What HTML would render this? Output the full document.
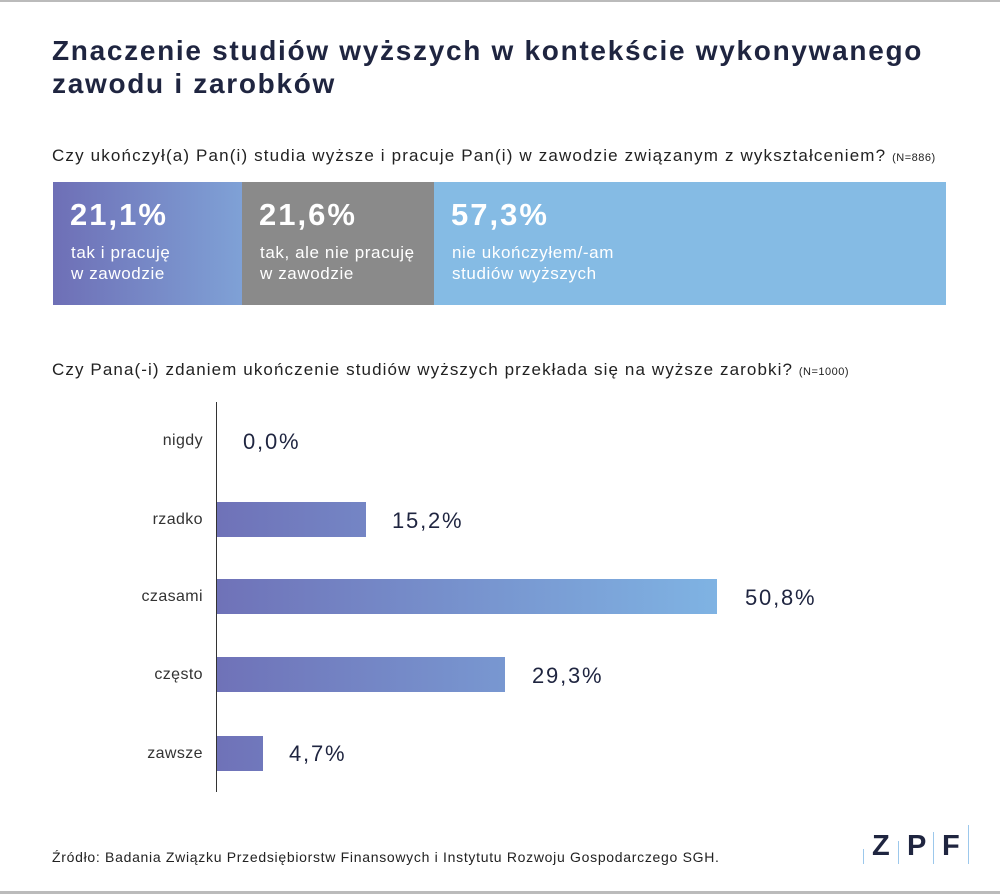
<!DOCTYPE html>
<html><head><meta charset="utf-8"><style>
body{margin:0;width:1000px;height:894px;background:#fff;font-family:"Liberation Sans",sans-serif;color:#1f2540;position:relative;overflow:hidden}
.a{position:absolute;white-space:nowrap}
.seg{position:absolute;top:182px;height:123px;color:#fff}
.seg .p{position:absolute;left:17px;top:15px;font-size:31px;font-weight:bold;letter-spacing:2px}
.seg .t{position:absolute;left:18px;top:60px;font-size:17px;line-height:21px;letter-spacing:0.6px}
.bar{position:absolute;left:217px;height:35px;background:linear-gradient(90deg,#6f72b8,#7fb3e3);background-size:500px 35px}
.cat{position:absolute;right:797px;font-size:16px;color:#333;letter-spacing:0.4px}
.val{position:absolute;font-size:22px;color:#1f2540;letter-spacing:1.8px}
</style></head><body>
<div class="a" style="left:0;top:0;width:1000px;height:2px;background:#bbb"></div>
<div class="a" style="left:0;top:891px;width:1000px;height:3px;background:#bbb"></div>
<div class="a" style="left:52px;top:34px;font-size:28px;font-weight:bold;line-height:33px;color:#1f2540;letter-spacing:1.7px">Znaczenie studiów wyższych w kontekście wykonywanego<br>zawodu i zarobków</div>
<div class="a" style="left:52px;top:146px;font-size:17px;color:#222;letter-spacing:1.15px">Czy ukończył(a) Pan(i) studia wyższe i pracuje Pan(i) w zawodzie związanym z wykształceniem? <span style="font-size:11px;letter-spacing:0.5px">(N=886)</span></div>
<div class="seg" style="left:53px;width:189px;background:linear-gradient(90deg,#6e6fb6,#7fa1d6)"><div class="p">21,1%</div><div class="t">tak i pracuję<br>w zawodzie</div></div>
<div class="seg" style="left:242px;width:192px;background:#8a8a8a"><div class="p">21,6%</div><div class="t">tak, ale nie pracuję<br>w zawodzie</div></div>
<div class="seg" style="left:434px;width:512px;background:#85bbe4"><div class="p">57,3%</div><div class="t">nie ukończyłem/-am<br>studiów wyższych</div></div>
<div class="a" style="left:52px;top:360px;font-size:17px;color:#222;letter-spacing:1.1px">Czy Pana(-i) zdaniem ukończenie studiów wyższych przekłada się na wyższe zarobki? <span style="font-size:11px;letter-spacing:0.5px">(N=1000)</span></div>
<div class="a" style="left:216px;top:402px;width:1px;height:390px;background:#333"></div>
<div class="cat" style="top:432px">nigdy</div><div class="val" style="left:243px;top:429px">0,0%</div>
<div class="bar" style="top:502px;width:149px"></div><div class="cat" style="top:511px">rzadko</div><div class="val" style="left:392px;top:508px">15,2%</div>
<div class="bar" style="top:579px;width:500px"></div><div class="cat" style="top:588px">czasami</div><div class="val" style="left:745px;top:585px">50,8%</div>
<div class="bar" style="top:657px;width:288px"></div><div class="cat" style="top:666px">często</div><div class="val" style="left:532px;top:663px">29,3%</div>
<div class="bar" style="top:736px;width:46px"></div><div class="cat" style="top:745px">zawsze</div><div class="val" style="left:289px;top:741px">4,7%</div>
<div class="a" style="left:52px;top:849px;font-size:14px;color:#222;letter-spacing:0.7px">Źródło: Badania Związku Przedsiębiorstw Finansowych i Instytutu Rozwoju Gospodarczego SGH.</div>
<div class="a" style="left:863px;top:849px;width:1px;height:15px;background:#9cc8ec"></div>
<div class="a" style="left:872px;top:830px;font-size:29px;font-weight:bold;color:#1f2540">Z</div>
<div class="a" style="left:898px;top:841px;width:1px;height:23px;background:#9cc8ec"></div>
<div class="a" style="left:907px;top:830px;font-size:29px;font-weight:bold;color:#1f2540">P</div>
<div class="a" style="left:933px;top:832px;width:1px;height:32px;background:#9cc8ec"></div>
<div class="a" style="left:942px;top:830px;font-size:29px;font-weight:bold;color:#1f2540">F</div>
<div class="a" style="left:968px;top:825px;width:1px;height:39px;background:#9cc8ec"></div>
</body></html>
